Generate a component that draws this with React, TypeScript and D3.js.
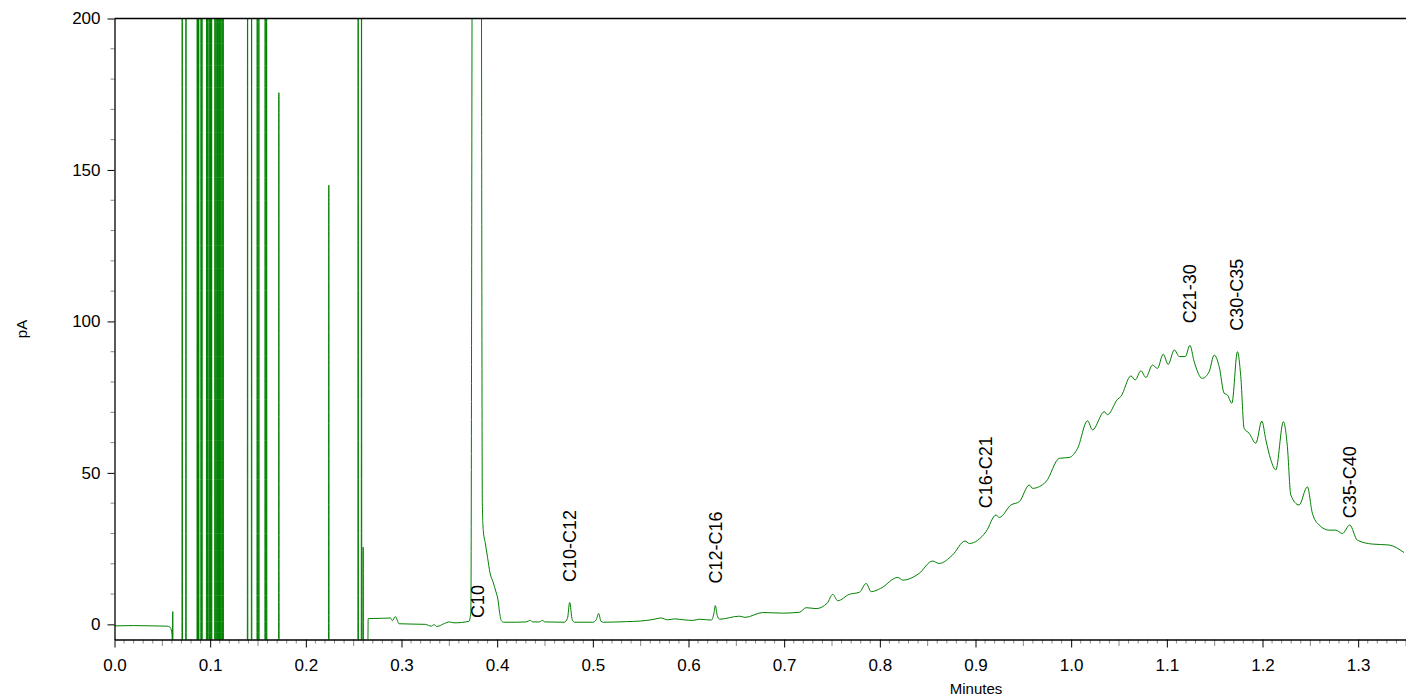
import React, { useEffect, useRef } from "react";
import * as d3 from "d3";

// retention time (min) / signal (pA)
const startTrace: [number, number][] = [
  [0, -0.5], [0.02, -0.4], [0.04, -0.5], [0.055, -0.6], [0.058, -0.9],
  [0.0598, -2.5], [0.0603, -4.5], [0.0606, -6], [0.0609, 4.2], [0.0612, -20],
];

// solvent / noise spikes in the first part of the run
const spikeTimes = [
  0.0708, 0.0747, 0.0865, 0.0872, 0.088, 0.0905, 0.0914, 0.0963, 0.0975, 0.099,
  0.1005, 0.1015, 0.105, 0.1062, 0.1075, 0.109, 0.11, 0.1112, 0.1125, 0.1136,
  0.1391, 0.1433, 0.1492, 0.1509, 0.1575, 0.159, 0.1718, 0.224, 0.2547, 0.2582,
  0.2599,
];
const spikeHeights = [
  300, 300, 300, 300, 300, 300, 300, 300, 300, 300,
  300, 300, 300, 300, 300, 300, 300, 300, 300, 300,
  300, 300, 300, 300, 300, 300, 175.5, 145, 300, 300,
  25.5,
];

const mainTrace: [number, number][] = [
  [0.2645, -20], [0.2652, 1.9], [0.28, 2.0], [0.2885, 2.1], [0.2905, 1.2],
  [0.2935, 2.6], [0.2975, 0.2], [0.31, 0.1], [0.325, 0.0], [0.331, -0.6],
  [0.334, -0.1], [0.337, -0.7], [0.345, 0.3], [0.35, 0.8], [0.355, 0.5],
  [0.3705, 1.0], [0.3725, 4], [0.3745, 300], [0.383, 300], [0.3845, 40],
  [0.3855, 31], [0.3875, 27], [0.39, 22], [0.3925, 17], [0.3957, 14],
  [0.3985, 11], [0.4009, 8], [0.4025, 4], [0.4044, 1.2], [0.407, 0.7],
  [0.42, 0.7], [0.43, 0.8], [0.4347, 1.3], [0.437, 0.8], [0.444, 0.8],
  [0.4472, 1.3], [0.45, 0.8], [0.47, 0.7], [0.4735, 2], [0.4758, 7.2],
  [0.4785, 1.5], [0.481, 0.7], [0.5, 0.7], [0.5035, 1.5], [0.5061, 3.6],
  [0.5085, 1.0], [0.511, 0.7], [0.535, 0.9], [0.55, 1.1], [0.5628, 1.6],
  [0.5715, 2.1], [0.578, 1.5], [0.5855, 1.8], [0.595, 1.5], [0.6046, 1.3],
  [0.6116, 1.7], [0.6238, 1.4], [0.6265, 3.5], [0.628, 6.2], [0.63, 3.0],
  [0.6325, 1.7], [0.6533, 2.7], [0.659, 2.3], [0.6777, 3.9], [0.6986, 3.7],
  [0.716, 4.0], [0.723, 5.5], [0.7334, 5.2], [0.745, 7.0], [0.7508, 9.9],
  [0.756, 7.8], [0.768, 9.9], [0.7787, 10.6], [0.7857, 13.5], [0.791, 10.8],
  [0.801, 11.9], [0.8187, 15.5], [0.824, 14.6], [0.841, 16.8], [0.855, 20.9],
  [0.862, 20.1], [0.876, 22.9], [0.889, 27.5], [0.8936, 26.7], [0.911, 30.6],
  [0.9214, 36.1], [0.925, 35.3], [0.937, 39.4], [0.9458, 40.5], [0.9562, 46.0],
  [0.9597, 44.9], [0.9737, 47.1], [0.9876, 54.8], [0.998, 55.1], [1.0067, 58.1],
  [1.0171, 67.2], [1.0223, 64.2], [1.0346, 70.2], [1.038, 69.2], [1.0485, 74.3],
  [1.0519, 75.2], [1.0624, 82.0], [1.0669, 80.7], [1.0729, 83.7], [1.0781, 81.5],
  [1.085, 85.6], [1.0902, 84.5], [1.0962, 89.2], [1.1014, 85.8], [1.1078, 90.6],
  [1.113, 88.4], [1.1193, 88.4], [1.1241, 92.1], [1.1286, 86.7], [1.137, 81.2],
  [1.1442, 83.4], [1.1495, 88.9], [1.1547, 85.1], [1.1599, 76.3], [1.1634, 75.7],
  [1.168, 73.0], [1.1738, 90.0], [1.1773, 81.8], [1.1808, 64.7], [1.186, 63.1],
  [1.193, 59.8], [1.1993, 67.1], [1.2035, 60.9], [1.2087, 54.3], [1.2139, 51.0],
  [1.2218, 66.9], [1.226, 58.7], [1.2296, 42.7], [1.2382, 39.4], [1.2469, 45.4],
  [1.2521, 36.7], [1.2592, 32.8], [1.2696, 31.1], [1.2766, 31.1], [1.2835, 30.0],
  [1.2912, 32.8], [1.2991, 27.8], [1.3148, 26.5], [1.3322, 26.2], [1.3479, 23.7],
];

// peak group labels: text, time, signal level where the label starts
const peakLabels = ["C10", "C10-C12", "C12-C16", "C16-C21", "C21-30", "C30-C35", "C35-C40"];
const peakLabelTimes = [0.3797, 0.4758, 0.6283, 0.9103, 1.1234, 1.1735, 1.2911];
const peakLabelLevels = [2.1, 14.0, 13.5, 38.3, 99.4, 96.9, 35.0];

const W = 1406;
const H = 697;
const margin = { top: 18.5, right: 0, bottom: 57.5, left: 114.5 };
const FONT = "Arial, 'Liberation Sans', sans-serif";
const GREEN = "#008000";

export default function App() {
  const ref = useRef<SVGSVGElement | null>(null);

  useEffect(() => {
    const svg = d3.select(ref.current);
    svg.selectAll("*").remove();

    const x = d3.scaleLinear().domain([0, 1.35]).range([margin.left, W - margin.right]);
    const y = d3.scaleLinear().domain([-5, 200]).range([H - margin.bottom, margin.top]);

    // build full trace
    const pts: [number, number][] = [...startTrace];
    spikeTimes.forEach((t, i) => {
      pts.push([t - 0.0003, -20], [t, spikeHeights[i]], [t + 0.0003, -20]);
    });
    pts.push(...mainTrace);

    svg.append("defs").append("clipPath").attr("id", "plot-clip")
      .append("rect")
      .attr("x", margin.left)
      .attr("y", margin.top)
      .attr("width", W - margin.left - margin.right)
      .attr("height", H - margin.top - margin.bottom);

    const line = d3.line<[number, number]>()
      .x((d) => x(d[0]))
      .y((d) => y(d[1]))
      .curve(d3.curveMonotoneX);

    svg.append("path")
      .datum(pts)
      .attr("clip-path", "url(#plot-clip)")
      .attr("fill", "none")
      .attr("stroke", GREEN)
      .attr("stroke-width", 1)
      .attr("d", line);

    // top frame line
    svg.append("line")
      .attr("x1", margin.left).attr("x2", W - margin.right)
      .attr("y1", margin.top).attr("y2", margin.top)
      .attr("stroke", "#000").attr("stroke-width", 1.3);

    // y axis
    const yMinor = d3.range(0, 201, 10).filter((v) => v % 50 !== 0);
    svg.append("g").selectAll("line").data(yMinor).join("line")
      .attr("x1", margin.left - 4).attr("x2", margin.left)
      .attr("y1", (d) => y(d)).attr("y2", (d) => y(d))
      .attr("stroke", "#888");

    const yAxis = svg.append("g")
      .attr("transform", `translate(${margin.left},0)`)
      .call(d3.axisLeft(y).tickValues([0, 50, 100, 150, 200]).tickSize(7).tickPadding(7).tickSizeOuter(0));
    yAxis.select(".domain").attr("stroke-width", 1.3);
    yAxis.selectAll("text").attr("font-family", FONT).attr("font-size", 17).attr("fill", "#000");

    // x axis
    const xMinor = d3.range(0, 136).map((i) => i / 100).filter((_, i) => i % 5 !== 0);
    const xMid = d3.range(0, 14).map((i) => i / 10 + 0.05).filter((v) => v <= 1.35);
    const xBase = H - margin.bottom;
    svg.append("g").selectAll("line").data(xMinor).join("line")
      .attr("x1", (d) => x(d)).attr("x2", (d) => x(d))
      .attr("y1", xBase).attr("y2", xBase + 4)
      .attr("stroke", "#888");
    svg.append("g").selectAll("line").data(xMid).join("line")
      .attr("x1", (d) => x(d)).attr("x2", (d) => x(d))
      .attr("y1", xBase).attr("y2", xBase + 6.5)
      .attr("stroke", "#888");

    const xAxis = svg.append("g")
      .attr("transform", `translate(0,${xBase})`)
      .call(d3.axisBottom(x).tickValues(d3.range(0, 14).map((i) => i / 10))
        .tickFormat(d3.format(".1f")).tickSize(8).tickPadding(11).tickSizeOuter(0));
    xAxis.select(".domain").attr("stroke-width", 1.3);
    xAxis.selectAll("text").attr("font-family", FONT).attr("font-size", 17).attr("fill", "#000");

    // axis titles
    svg.append("text")
      .attr("x", 976).attr("y", 694)
      .attr("text-anchor", "middle")
      .attr("font-family", FONT).attr("font-size", 15)
      .text("Minutes");
    svg.append("text")
      .attr("transform", `translate(27,${y(97.5)}) rotate(-90)`)
      .attr("text-anchor", "middle")
      .attr("font-family", FONT).attr("font-size", 15)
      .text("pA");

    // peak group annotations
    svg.append("g").selectAll("text").data(peakLabels).join("text")
      .attr("transform", (_, i) => `translate(${x(peakLabelTimes[i])},${y(peakLabelLevels[i])}) rotate(-90)`)
      .attr("text-anchor", "start")
      .attr("dy", "0.35em")
      .attr("font-family", FONT).attr("font-size", 18)
      .attr("fill", "#000")
      .text((d) => d);
  }, []);

  return (
    <svg
      ref={ref}
      width={W}
      height={H}
      style={{ position: "absolute", left: 0, top: 0, background: "#fff" }}
    />
  );
}
